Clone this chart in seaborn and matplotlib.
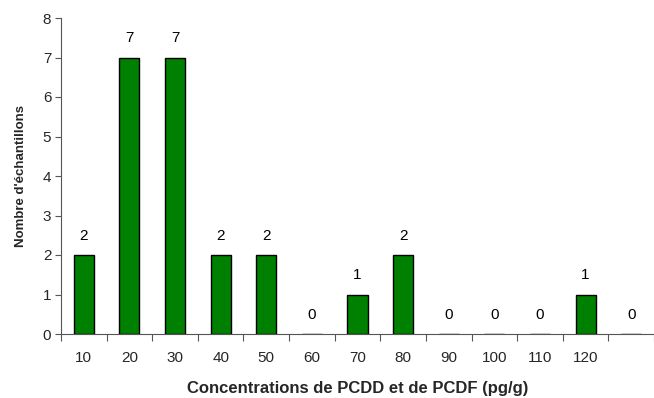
import matplotlib
matplotlib.use("Agg")
import matplotlib.pyplot as plt
import seaborn as sns
import pandas as pd
import numpy as np

categories = ["10", "20", "30", "40", "50", "60", "70", "80", "90", "100", "110", "120", ""]
counts = [2, 7, 7, 2, 2, 0, 1, 2, 0, 0, 0, 1, 0]

df = pd.DataFrame({"cat": [f"c{i}" for i in range(len(categories))], "n": counts})

sns.set_theme(style="white")
plt.rcParams["font.family"] = ["Liberation Sans", "DejaVu Sans"]

fig = plt.figure(figsize=(6.54, 3.98), dpi=100)
ax = fig.add_axes([61 / 654, 1 - 334 / 398, 593 / 654, 316 / 398])

sns.barplot(data=df, x="cat", y="n", color="#008000", saturation=1,
            width=0.44, edgecolor="black", linewidth=1.0, ax=ax)

ax.set_xlim(-0.5, 12.42)
ax.set_ylim(0, 8)
ax.set_yticks(range(0, 9))
ax.tick_params(axis="y", which="major", direction="out", length=4, width=0.8,
               color="#555555", labelsize=11, pad=3, left=True)

# category labels centred, tick marks on category boundaries
ax.set_xticks(np.arange(len(categories)))
ax.set_xticklabels(categories, fontsize=11)
ax.set_xticks(np.arange(-0.5, len(categories), 1.0), minor=True)
ax.tick_params(axis="x", which="major", length=0, pad=12, labelsize=11)
ax.tick_params(axis="x", which="minor", direction="out", length=5, width=0.8,
               color="#555555", bottom=True)

for s in ["top", "right"]:
    ax.spines[s].set_visible(False)
for s in ["left", "bottom"]:
    ax.spines[s].set_color("#555555")
    ax.spines[s].set_linewidth(0.8)

for i, v in enumerate(counts):
    ax.annotate(str(v), (i, v), xytext=(0, 14), textcoords="offset points",
                ha="center", va="center", fontsize=11, color="black")

ax.set_xlabel("Concentrations de PCDD et de PCDF (pg/g)", fontsize=12,
              fontweight="bold", labelpad=12)
ax.set_ylabel("Nombre d'échantillons", fontsize=9.5, fontweight="bold", labelpad=11)

fig.savefig("out.png", dpi=100)
